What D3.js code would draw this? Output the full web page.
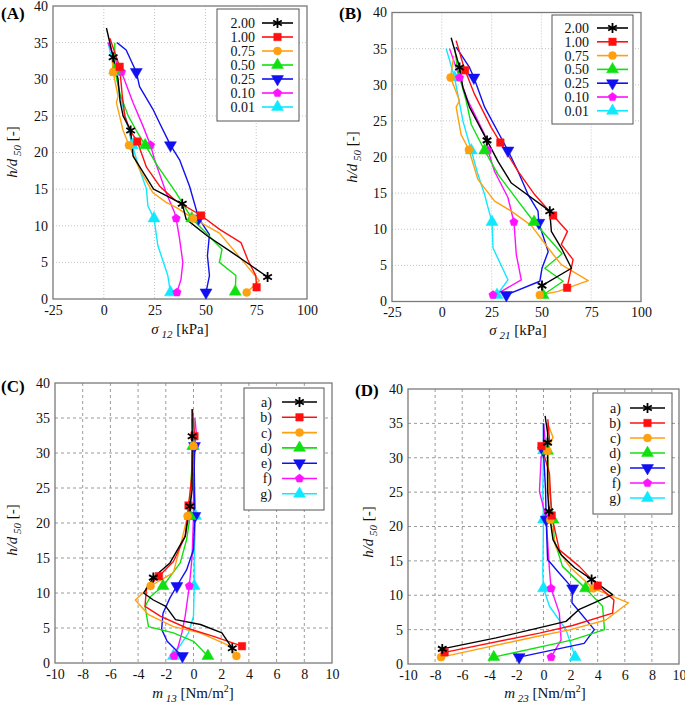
<!DOCTYPE html>
<html><head><meta charset="utf-8">
<script src="https://cdn.jsdelivr.net/npm/d3@7"></script>
<style>body{margin:0;background:#fff}svg{display:block}</style>
</head><body>
<svg id="c" width="685" height="703"></svg>
<script>
// ---------- DATA ----------
const legendAB = ["2.00","1.00","0.75","0.50","0.25","0.10","0.01"];
const legendCD = ["a)","b)","c)","d)","e)","f)","g)"];
const colors = ["#000000","#ff1010","#ffa010","#10e010","#1010f0","#ff10ff","#10e8ff"];
const markerTypes = ["asterisk","square","circle","triUp","triDown","pentagon","triUp"];
const ticksSigma = [-25,0,25,50,75,100];
const ticksMoment = [-10,-8,-6,-4,-2,0,2,4,6,8,10];
const ticksH = [0,5,10,15,20,25,30,35,40];

// each series: [value, h/d50]
const A_lines = [
 [[1.3,37],[4.6,33],[7,30],[8,27],[9.5,25],[13.2,23],[14.4,19.5],[20,17],[24.5,15],[38.6,13],[40.5,10.9],[51,8.6],[63.4,6.3],[80.6,3]],
 [[3,35.6],[7.8,31.7],[9,28],[10.3,25],[13,23],[16.5,21.5],[21,18],[27.5,15.4],[35,13.5],[47.9,11.4],[57,9.5],[67.5,7.7],[70.8,5.4],[74.8,3.2],[75.2,1.6]],
 [[4,33],[4.6,31],[7,27.7],[6.2,26.8],[9.5,23],[12.4,21],[17.6,17.7],[24.2,14.5],[30.7,13.2],[35.6,12.5],[44,11],[56.9,9],[69,5],[76.5,2.5],[70.3,0.9]],
 [[5.4,35],[5.4,31.2],[8,28],[12,25],[16,23],[20.4,21],[26.6,18.1],[35.6,14.5],[43.3,11],[50.3,9],[58.2,6.8],[56.9,5],[65,3.2],[64.7,1]],
 [[6.5,35],[11,34],[16,31],[17.6,29],[24.2,25.9],[27.5,24],[32.8,21],[37.3,19],[42.2,15.4],[46.7,11],[52,8.8],[51,5.9],[52,3.2],[50.3,0.9]],
 [[2.1,35],[5,33],[8.7,31],[14.4,26.8],[19.3,23.6],[23,21],[25,19],[30.7,14.5],[34.8,11.8],[35.6,11],[37.3,8.2],[38.9,5],[38,2.7],[36,0.9]],
 [[2.1,35],[3.8,32.9],[5.9,31],[7.8,28],[11,24.5],[14,21],[17.6,17.7],[21,15],[21.7,12.7],[24.7,11],[26.6,7.3],[31.5,3.2],[32.8,0.9]]
];
const A_marks = [
 [[4.6,33],[13.2,23],[38.6,13],[80.6,3]],
 [[7.8,31.7],[16.5,21.5],[47.9,11.4],[75.2,1.6]],
 [[4.6,31],[12.4,21],[44,11],[70.3,0.9]],
 [[5.4,31.2],[20.4,21],[43.3,11],[64.7,1]],
 [[16,31],[32.8,21],[46.7,11],[50.3,0.9]],
 [[8.7,31],[23,21],[35.6,11],[36,0.9]],
 [[5.9,31],[14,21],[24.7,11],[32.8,0.9]]
];
const B_lines = [
 [[4.7,36.5],[8.9,32.4],[10.6,29.6],[13.9,26.9],[22.7,22.3],[28.2,19.4],[34.9,16.4],[54.2,12.5],[55,9.7],[60,7.4],[65.1,4.6],[50.3,2.2]],
 [[7.2,36.1],[10.6,32.9],[11.7,32],[16.4,28.7],[24.8,24.1],[29.4,22],[38.3,18],[46.6,14.8],[55.9,11.9],[63.1,9.7],[60,7.9],[65.9,5.8],[62.9,1.9]],
 [[6,34],[4.4,31],[8.9,27.8],[7.2,26.9],[9.7,23.1],[13.6,21],[18.1,16.9],[26.5,13.9],[34.9,12.5],[45,10.5],[53.4,7.4],[60,5.1],[73.5,2.9],[58.4,1.4],[49.2,0.9]],
 [[6.4,35.2],[8,32],[12.2,27.8],[14.8,24.5],[21.5,20.9],[28.2,17.6],[38.3,13.9],[46.3,11],[55,8.3],[60.4,6.6],[51.7,4.6],[60.9,2.8],[50.8,0.9]],
 [[7.2,35.2],[13.9,32.4],[16.1,31],[21.5,26.9],[33.2,20.9],[38.3,18],[43.3,14.8],[48.3,12.5],[48.7,10.9],[53.4,6.9],[50.3,4.6],[49.2,2.8],[32.4,0.9]],
 [[3.9,35],[8.9,31],[13.1,27.8],[21.5,23.1],[23.2,20.9],[26.5,18],[33.2,14.4],[36.2,11],[37.4,6.5],[39.9,3],[29.9,1.4],[25.7,0.9]],
 [[2.2,35],[6.4,31],[8,28.7],[10.6,25],[14.8,20.9],[18.1,17.6],[21.5,14.8],[23.2,13],[25.2,11],[25.7,7.4],[33.2,3],[27.7,0.9]]
];
const B_marks = [
 [[8.9,32.4],[22.7,22.3],[54.2,12.5],[50.3,2.2]],
 [[11.7,32],[29.4,22],[55.9,11.9],[62.9,1.9]],
 [[4.4,31],[13.6,21],[49.2,0.9]],
 [[21.5,20.9],[46.3,11],[50.8,0.9]],
 [[16.1,31],[33.2,20.9],[48.7,10.9],[32.4,0.9]],
 [[8.9,31],[23.2,20.9],[36.2,11],[25.7,0.9]],
 [[6.4,31],[14.8,20.9],[25.2,11],[27.7,0.9]]
];
const C_lines = [
 [[-0.1,36.3],[-0.1,32.4],[-0.1,24.8],[-0.25,22.4],[-0.6,18.1],[-1.7,14.3],[-2.9,12.2],[-3.6,10],[-2.9,9],[-2,8.1],[-1.3,6.2],[0.5,5.5],[2.05,4.3],[2.8,2.1]],
 [[-0.07,36.2],[0.07,32.4],[-0.1,27],[-0.36,22.5],[-0.6,18.1],[-1.45,14.5],[-2.5,12.4],[-3.4,10.7],[-3.5,8.1],[-2.4,6.7],[-0.5,5],[1.45,3.8],[3.5,2.4]],
 [[0,35],[0,31],[-0.2,25],[-0.43,21],[-0.84,17.6],[-1.45,12.9],[-3.1,11],[-4.2,9],[-3.25,6.9],[-1.45,5.2],[0.48,4.3],[2.65,2.4],[3.1,1]],
 [[0,34.8],[-0.05,31],[-0.2,24.8],[-0.24,21],[-0.5,17.6],[-0.96,14.3],[-2.2,11],[-3.1,9.5],[-3.5,8.1],[-3.25,5.2],[-1.45,4.3],[0,3.1],[1.04,1]],
 [[0,34.8],[0.07,31],[0.05,25],[0.1,21],[0,16.2],[-0.5,13.3],[-1.2,11],[-1.7,9.3],[-2.2,7.1],[-2.3,4.8],[-1.9,3.1],[-1.2,1.7],[-0.8,1]],
 [[0.1,35],[0.2,32.9],[0.1,31],[0,25],[0,21],[-0.1,15.2],[-0.3,11],[-0.6,6.7],[-0.84,4.3],[-1.1,2.4],[-1.4,1]],
 [[-0.1,34.9],[0,31],[0.1,25],[0.15,21],[0.05,15],[0.05,11],[0,6.7],[-0.36,4.3],[-1,2.4],[-1.45,1]]
];
const C_marks = [
 [[-0.1,32.4],[-0.25,22.4],[-2.9,12.2],[2.8,2.1]],
 [[0.07,32.4],[-0.36,22.5],[-2.5,12.4],[3.5,2.4]],
 [[0,31],[-0.43,21],[-3.1,11],[3.1,1]],
 [[-0.05,31],[-0.24,21],[-2.2,11],[1.04,1]],
 [[0.07,31],[0.1,21],[-1.2,11],[-0.8,1]],
 [[0.1,31],[0,21],[-0.3,11],[-1.4,1]],
 [[0,31],[0.15,21],[0.05,11],[-1.45,1]]
];
const D_lines = [
 [[0.12,36.1],[0.3,33.6],[0.3,32.2],[0.3,25.3],[0.4,22.2],[0.7,18.1],[1.3,15.9],[2.3,14],[3.55,12.3],[5.1,10.1],[2.6,7.9],[1.66,6.2],[0.2,5.5],[-3.5,3.8],[-7.47,2.2]],
 [[0.32,35.6],[0.44,32.6],[-0.15,31.7],[0.44,27.7],[0.6,21.6],[1.17,16.6],[2.64,14.2],[4,11.4],[5.2,9.3],[5.1,7.4],[2.15,5.6],[-0.3,4.5],[-7.3,1.7]],
 [[0.3,35],[0.7,33],[0.3,31],[0.35,25],[0.5,21],[0.9,17],[2,14],[3.67,11],[6.27,8.9],[4.6,6.4],[2,5],[-0.5,4],[-7.56,1]],
 [[0.32,35],[0.3,31],[0.45,25],[0.7,21],[0.8,18],[1.4,14.2],[3.1,11],[4.36,8.4],[4.5,5],[2.15,3.5],[-3.67,1]],
 [[0,35],[0,31],[0.15,25.3],[0.2,21],[0.3,15.2],[1.17,13.2],[2.15,11],[2.1,8.9],[3.75,5],[3,3],[-1.8,1]],
 [[0,35],[0.2,31],[-0.17,30.2],[-0.3,25.1],[0.2,21.2],[0.3,18],[0.44,13.7],[0.56,11],[1.17,7.4],[1.3,3.5],[0.56,1]],
 [[0,35],[0,31.1],[-0.05,25],[0,21],[-0.05,13.2],[0,11],[0.44,8.4],[1.66,5],[2.33,1]]
];
const D_marks = [
 [[0.3,32.2],[0.4,22.2],[3.55,12.3],[-7.47,2.2]],
 [[-0.15,31.7],[0.6,21.6],[4,11.4],[-7.3,1.7]],
 [[0.3,31],[0.5,21],[3.67,11],[-7.56,1]],
 [[0.3,31],[0.7,21],[3.1,11],[-3.67,1]],
 [[0,31],[0.2,21],[2.15,11],[-1.8,1]],
 [[0.2,31],[0.2,21.2],[0.56,11],[0.56,1]],
 [[0,31.1],[0,21],[0,11],[2.33,1]]
];

// ---------- DRAW ----------
const svg = d3.select("#c");
const FONT = "'Liberation Serif', 'Times New Roman', serif";

const pentagon = {draw(ctx, size){
  const r = Math.sqrt(size/2.38);
  for(let i=0;i<5;i++){const a=-Math.PI/2+i*2*Math.PI/5;
    const x=r*Math.cos(a), y=r*Math.sin(a); i?ctx.lineTo(x,y):ctx.moveTo(x,y);}
  ctx.closePath();}};

function drawMarker(g, type, color, x, y){
  let sym, size, rot=0, stroke=false;
  switch(type){
    case "asterisk": sym=d3.symbolAsterisk; size=70; stroke=true; break;
    case "square": sym=d3.symbolSquare; size=56; break;
    case "circle": sym=d3.symbolCircle; size=50; break;
    case "triUp": sym=d3.symbolTriangle; size=62; break;
    case "triDown": sym=d3.symbolTriangle; size=62; rot=180; break;
    case "pentagon": sym=pentagon; size=46; break;
  }
  g.append("path").attr("d", d3.symbol(sym,size)())
   .attr("transform",`translate(${x},${y}) rotate(${rot})`)
   .attr("fill", stroke?"none":color).attr("stroke", color)
   .attr("stroke-width", stroke?1.8:0.5);
}

function panel(cfg){
  const g = svg.append("g");
  const x = d3.scaleLinear().domain(cfg.xdom).range([cfg.x0,cfg.x1]);
  const y = d3.scaleLinear().domain([0,40]).range([cfg.y1,cfg.y0]);
  // grid
  const gs = cfg.dashed ? {c:"#9a9a9a",d:"3,3",w:1} : {c:"#c4c4c4",d:"1,2",w:1};
  g.selectAll(".gx").data(cfg.xticks.slice(1,-1)).join("line")
    .attr("x1",d=>x(d)).attr("x2",d=>x(d)).attr("y1",cfg.y0).attr("y2",cfg.y1)
    .attr("stroke",gs.c).attr("stroke-dasharray",gs.d).attr("stroke-width",gs.w);
  g.selectAll(".gy").data(ticksH.slice(1,-1)).join("line")
    .attr("y1",d=>y(d)).attr("y2",d=>y(d)).attr("x1",cfg.x0).attr("x2",cfg.x1)
    .attr("stroke",gs.c).attr("stroke-dasharray",gs.d).attr("stroke-width",gs.w);
  // axes labels
  const ax = g.append("g").attr("transform",`translate(0,${cfg.y1})`)
    .call(d3.axisBottom(x).tickValues(cfg.xticks).tickSize(0).tickPadding(cfg.xpad).tickFormat(d=>String(d)));
  const ay = g.append("g").attr("transform",`translate(${cfg.x0},0)`)
    .call(d3.axisLeft(y).tickValues(ticksH).tickSize(0).tickPadding(5).tickFormat(d=>String(d)));
  [ax,ay].forEach(a=>{a.attr("font-family",null).attr("font-size",null);
    a.select(".domain").remove();
    a.selectAll("text").attr("fill","#111").style("font-size","14px");});
  // frame
  g.append("rect").attr("x",cfg.x0).attr("y",cfg.y0).attr("width",cfg.x1-cfg.x0).attr("height",cfg.y1-cfg.y0)
    .attr("fill","none").attr("stroke","#7a7a7a").attr("stroke-width",1.3);
  // lines
  const line = d3.line().x(d=>x(d[0])).y(d=>y(d[1]));
  const order = [6,5,4,3,2,1,0];
  order.forEach(i=>{
    g.append("path").attr("d",line(cfg.lines[i])).attr("fill","none")
      .attr("stroke",colors[i]).attr("stroke-width",1.4).attr("stroke-linejoin","round");
  });
  order.forEach(i=>{
    cfg.marks[i].forEach(p=>drawMarker(g, markerTypes[i], colors[i], x(p[0]), y(p[1])));
  });
  // legend
  const L = cfg.legend;
  g.append("rect").attr("x",L.x0).attr("y",L.y0).attr("width",L.x1-L.x0).attr("height",L.y1-L.y0)
    .attr("fill","#fff").attr("stroke","#555").attr("stroke-width",1);
  cfg.labels.forEach((lab,i)=>{
    const yy = L.r0 + i*L.dr;
    g.append("text").attr("x",L.tx).attr("y",yy).attr("dy","0.35em").attr("text-anchor","end")
      .style("font-size","14px").attr("fill","#111").text(lab);
    g.append("line").attr("x1",L.l0).attr("x2",L.l1).attr("y1",yy).attr("y2",yy)
      .attr("stroke",colors[i]).attr("stroke-width",1.6);
    drawMarker(g, markerTypes[i], colors[i], (L.l0+L.l1)/2, yy);
  });
  // panel tag
  g.append("text").attr("x",cfg.tag[1]).attr("y",cfg.tag[2])
    .style("font-weight","bold").style("font-size","17px").text(cfg.tag[0]);
  // x label
  const xl = g.append("text").attr("x",cfg.xl[0]).attr("y",cfg.xl[1]).attr("text-anchor","middle")
    .style("font-size","15px").attr("fill","#111");
  cfg.xlabel(xl);
  // y label
  const yl = g.append("text").attr("transform",`translate(${cfg.yl[0]},${cfg.yl[1]}) rotate(-90)`)
    .attr("text-anchor","middle").style("font-size","15px").attr("fill","#111");
  yl.append("tspan").style("font-style","italic").text("h/d");
  yl.append("tspan").style("font-style","italic").style("font-size","11px").attr("dy",4).text(" 50");
  yl.append("tspan").attr("dy",-4).text(" [-]");
}

function sigmaLabel(sub){return t=>{
  t.append("tspan").style("font-style","italic").text("σ");
  t.append("tspan").style("font-style","italic").style("font-size","11px").attr("dy",4).text(" "+sub);
  t.append("tspan").attr("dy",-4).text(" [kPa]");
};}
function momentLabel(sub){return t=>{
  t.append("tspan").style("font-style","italic").text("m");
  t.append("tspan").style("font-style","italic").style("font-size","11px").attr("dy",4).text(" "+sub);
  t.append("tspan").attr("dy",-4).text(" [Nm/m");
  t.append("tspan").style("font-size","10px").attr("dy",-6).text("2");
  t.append("tspan").attr("dy",6).text("]");
};}

panel({x0:53,x1:307,y0:6,y1:299,xdom:[-25,100],xticks:ticksSigma,dashed:false,xpad:6,
  lines:A_lines,marks:A_marks,labels:legendAB,
  legend:{x0:217,y0:9,x1:299,y1:121,r0:23,dr:14,tx:255,l0:262,l1:293},
  tag:["(A)",1,19],xl:[180,334],xlabel:sigmaLabel("12"),yl:[17,152]});
panel({x0:392,x1:641,y0:12.5,y1:301.5,xdom:[-25,100],xticks:ticksSigma,dashed:false,xpad:6,
  lines:B_lines,marks:B_marks,labels:legendAB,
  legend:{x0:552,y0:15,x1:633,y1:124,r0:28,dr:13.8,tx:589,l0:597,l1:628},
  tag:["(B)",339,19],xl:[518,335],xlabel:sigmaLabel("21"),yl:[357,157]});
panel({x0:55,x1:332,y0:383,y1:663,xdom:[-10,10],xticks:ticksMoment,dashed:true,xpad:6,
  lines:C_lines,marks:C_marks,labels:legendCD,
  legend:{x0:244,y0:388,x1:324,y1:510,r0:402,dr:15.3,tx:272,l0:282,l1:317},
  tag:["(C)",1,392],xl:[193,698],xlabel:momentLabel("13"),yl:[17,530]});
panel({x0:408,x1:679,y0:389,y1:664,xdom:[-10,10],xticks:ticksMoment,dashed:true,xpad:6,
  lines:D_lines,marks:D_marks,labels:legendCD,
  legend:{x0:593,y0:393,x1:672,y1:514,r0:408,dr:15,tx:621,l0:630,l1:665},
  tag:["(D)",355,396],xl:[545,698],xlabel:momentLabel("23"),yl:[373,532]});

// serif everywhere (inline style beats any attribute)
svg.selectAll("text").style("font-family", FONT);
</script>
</body></html>
